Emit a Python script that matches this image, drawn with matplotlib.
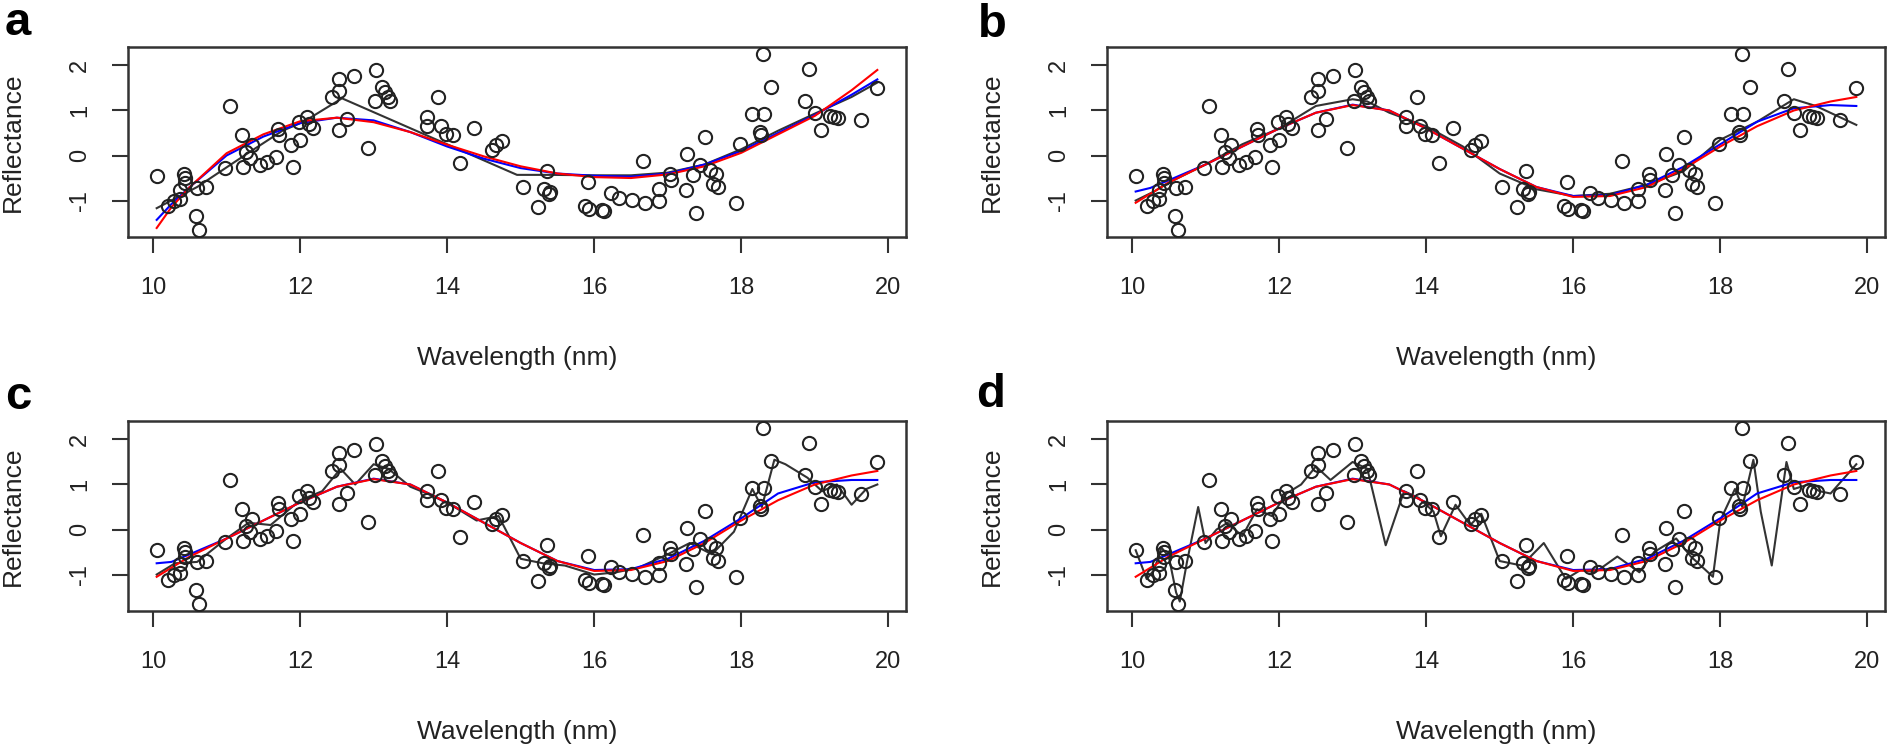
"""Four-panel reflectance fits: raw points with three smoothers per panel."""

import matplotlib
matplotlib.use("Agg")
import matplotlib.pyplot as plt

# observed spectrum (same in every panel)
wavelength = [
    10.05, 10.20, 10.28, 10.37, 10.37, 10.42, 10.44, 10.44, 10.59, 10.60,
    10.62, 10.72, 10.98, 11.05, 11.21, 11.23, 11.27, 11.32, 11.35, 11.45,
    11.55, 11.67, 11.70, 11.72, 11.87, 11.91, 11.99, 12.00, 12.10, 12.12,
    12.18, 12.43, 12.53, 12.53, 12.53, 12.64, 12.73, 12.93, 13.03, 13.02,
    13.11, 13.16, 13.20, 13.22, 13.72, 13.73, 13.88, 13.91, 13.98, 14.08,
    14.17, 14.36, 14.61, 14.67, 14.74, 15.03, 15.24, 15.32, 15.36, 15.38,
    15.40, 15.88, 15.92, 15.93, 16.10, 16.13, 16.23, 16.34, 16.51, 16.67,
    16.69, 16.88, 16.88, 17.03, 17.05, 17.25, 17.26, 17.35, 17.38, 17.44,
    17.50, 17.57, 17.62, 17.66, 17.69, 17.93, 17.98, 18.14, 18.25, 18.27,
    18.30, 18.31, 18.41, 18.86, 18.92, 19.00, 19.08, 19.20, 19.26, 19.32,
    19.63, 19.84,
]
reflectance = [
    -0.46, -1.12, -1.02, -0.77, -0.97, -0.40, -0.51, -0.62, -1.34, -0.73,
    -1.66, -0.71, -0.27, 1.10, 0.46, -0.25, 0.07, -0.06, 0.24, -0.21,
    -0.14, -0.04, 0.58, 0.46, 0.23, -0.25, 0.75, 0.34, 0.86, 0.70,
    0.62, 1.31, 1.71, 1.43, 0.57, 0.80, 1.77, 0.16, 1.90, 1.22,
    1.52, 1.42, 1.30, 1.22, 0.86, 0.66, 1.31, 0.66, 0.47, 0.46,
    -0.17, 0.60, 0.12, 0.23, 0.33, -0.70, -1.15, -0.75, -0.34, -0.86,
    -0.80, -1.12, -0.58, -1.18, -1.21, -1.24, -0.84, -0.95, -0.99, -0.12,
    -1.05, -1.01, -0.74, -0.40, -0.54, -0.77, 0.04, -0.43, -1.27, -0.21,
    0.42, -0.32, -0.64, -0.40, -0.69, -1.06, 0.26, 0.92, 0.53, 0.45,
    2.26, 0.92, 1.52, 1.20, 1.92, 0.94, 0.57, 0.87, 0.85, 0.84,
    0.79, 1.49,
]

# grid on which the smooth fits were read
fit_x = [10.05, 10.25, 10.5, 11.0, 11.5, 12.0, 12.5, 13.0, 13.5, 14.0, 14.5,
         15.0, 15.5, 16.0, 16.5, 17.0, 17.5, 18.0, 18.5, 19.0, 19.5, 19.85]

# panel a
a_red = [-1.61, -1.15, -0.70, 0.05, 0.47, 0.76, 0.84, 0.74, 0.52, 0.24, -0.02,
         -0.24, -0.40, -0.48, -0.50, -0.42, -0.24, 0.06, 0.47, 0.88, 1.45, 1.90]
a_blue = [-1.43, -1.08, -0.70, 0.00, 0.42, 0.72, 0.84, 0.78, 0.52, 0.20, -0.07,
          -0.28, -0.40, -0.45, -0.47, -0.40, -0.20, 0.10, 0.50, 0.90, 1.35, 1.69]
a_black_x = [10.05, 10.6, 11.27, 11.76, 12.05, 12.57, 14.95, 15.4, 16.0, 16.5,
             17.0, 17.5, 18.0, 18.5, 19.0, 19.5, 19.85]
a_black_y = [-1.17, -0.70, 0.03, 0.55, 0.75, 1.27, -0.43, -0.43, -0.44, -0.44,
             -0.38, -0.20, 0.14, 0.55, 0.93, 1.30, 1.62]

# panel b
b_red = [-1.05, -0.85, -0.60, -0.20, 0.20, 0.60, 0.95, 1.12, 1.00, 0.60, 0.15,
         -0.30, -0.70, -0.92, -0.90, -0.70, -0.30, 0.20, 0.65, 1.00, 1.20, 1.30]
b_blue = [-0.80, -0.72, -0.55, -0.20, 0.20, 0.60, 0.95, 1.13, 1.00, 0.60, 0.15,
          -0.30, -0.70, -0.90, -0.88, -0.65, -0.25, 0.25, 0.75, 1.05, 1.12, 1.10]
b_black_x = [10.05, 10.3, 10.5, 11.0, 11.5, 12.0, 12.5, 13.0, 13.2, 13.5, 14.0,
             14.5, 15.0, 15.5, 16.0, 16.5, 17.0, 17.5, 18.0, 18.5, 19.0, 19.3, 19.85]
b_black_y = [-1.00, -0.80, -0.60, -0.20, 0.25, 0.60, 1.10, 1.25, 1.20, 0.95, 0.65,
             0.20, -0.40, -0.75, -0.90, -0.85, -0.65, -0.35, 0.35, 0.75, 1.25, 1.10, 0.68]

# panel c
c_red = b_red
c_blue = [-0.75, -0.72, -0.55, -0.20, 0.20, 0.60, 0.95, 1.13, 1.00, 0.60, 0.15,
          -0.30, -0.70, -0.90, -0.88, -0.65, -0.25, 0.25, 0.80, 1.05, 1.10, 1.10]
c_black_x = [10.05, 10.3, 10.6, 11.0, 11.3, 11.6, 12.0, 12.3, 12.55, 12.75, 13.0,
             13.2, 13.5, 13.8, 14.1, 14.4, 14.7, 15.0, 15.3, 15.6, 16.0, 16.3,
             16.6, 17.0, 17.3, 17.6, 17.9, 18.15, 18.28, 18.45, 18.6, 18.9, 19.1,
             19.3, 19.5, 19.7, 19.85]
c_black_y = [-1.00, -0.75, -0.72, -0.20, 0.15, 0.10, 0.65, 0.85, 1.35, 1.00, 1.45,
             1.35, 0.95, 0.75, 0.50, 0.20, 0.30, -0.65, -0.75, -0.80, -1.00, -0.95,
             -0.85, -0.55, -0.30, -0.55, -0.05, 0.90, 0.50, 1.55, 1.45, 1.15, 0.85,
             1.00, 0.55, 0.90, 1.00]

# panel d
d_red = b_red
d_blue = c_blue
d_black_x = [10.05, 10.2, 10.3, 10.4, 10.5, 10.6, 10.65, 10.75, 10.9, 11.0, 11.15,
             11.3, 11.5, 11.7, 11.9, 12.1, 12.3, 12.5, 12.7, 13.0, 13.2, 13.45,
             13.7, 13.9, 14.1, 14.2, 14.4, 14.6, 14.75, 15.0, 15.3, 15.6, 15.9,
             16.1, 16.3, 16.6, 16.9, 17.1, 17.4, 17.6, 17.9, 18.0, 18.2, 18.3,
             18.45, 18.55, 18.7, 18.9, 19.0, 19.2, 19.35, 19.5, 19.85]
d_black_y = [-0.46, -1.10, -0.90, -0.40, -0.60, -1.40, -1.60, -0.70, 0.50, -0.30, 0.00,
             0.15, -0.15, 0.45, 0.30, 0.80, 1.00, 1.40, 1.10, 1.50, 1.35, -0.35,
             0.85, 0.70, 0.40, -0.15, 0.55, 0.10, 0.35, -0.70, -0.80, -0.30, -1.10,
             -0.90, -0.95, -0.60, -0.95, -0.50, -0.20, -0.60, -1.05, 0.20, 0.90, 0.50,
             1.55, 0.40, -0.80, 1.50, 0.90, 1.00, 0.85, 0.80, 1.45]

panels = [
    ("a", a_black_x, a_black_y, a_blue, a_red),
    ("b", b_black_x, b_black_y, b_blue, b_red),
    ("c", c_black_x, c_black_y, c_blue, c_red),
    ("d", d_black_x, d_black_y, d_blue, d_red),
]

plt.rcParams.update({
    "font.family": "Liberation Sans",
    "axes.unicode_minus": False,
    "axes.linewidth": 1.8,
    "axes.edgecolor": "#333333",
})

W, H = 1890, 746
fig = plt.figure(figsize=(W / 100, H / 100), dpi=100)

# axes boxes in pixels: left, top
boxes = [(128, 47), (1107, 47), (128, 421), (1107, 421)]
box_w, box_h = 778, 190
letters_pos = [(5, 35), (978, 37), (5, 409), (976, 407)]

for (tag, bx, by, blue, red), (left, top), (lx, ly) in zip(panels, boxes, letters_pos):
    ax = fig.add_axes([left / W, 1 - (top + box_h) / H, box_w / W, box_h / H])
    ax.plot(bx, by, color="#333333", lw=1.5, zorder=2)
    ax.plot(fit_x, blue, color="#0000ff", lw=1.5, zorder=3)
    ax.plot(fit_x, red, color="#ff0000", lw=1.5, zorder=4)
    ax.plot(wavelength, reflectance, ls="none", marker="o", ms=9.5,
            mfc="none", mec="#222222", mew=1.5, zorder=5)

    ax.set_xlim(9.66, 20.24)
    ax.set_ylim(-1.81, 2.41)
    ax.set_xticks([10, 12, 14, 16, 18, 20])
    ax.set_yticks([-1, 0, 1, 2])
    ax.tick_params(length=11.5, width=1.5, color="#333333", labelsize=17,
                   labelcolor="#222222")
    ax.tick_params(axis="x", pad=17)
    ax.tick_params(axis="y", pad=15)
    for lab in ax.get_yticklabels():
        lab.set_rotation(90)
        lab.set_va("center")

    ax.set_xlabel("Wavelength (nm)", fontsize=19, color="#222222")
    ax.xaxis.set_label_coords(0.5, -0.575)
    ax.set_ylabel("Reflectance", fontsize=19, color="#222222")
    ax.yaxis.set_label_coords(-0.132, 0.5)

    fig.text(lx / W, 1 - ly / H, tag, fontsize=34, fontweight="bold",
             va="baseline", ha="left")

fig.savefig("out.png", dpi=100)
